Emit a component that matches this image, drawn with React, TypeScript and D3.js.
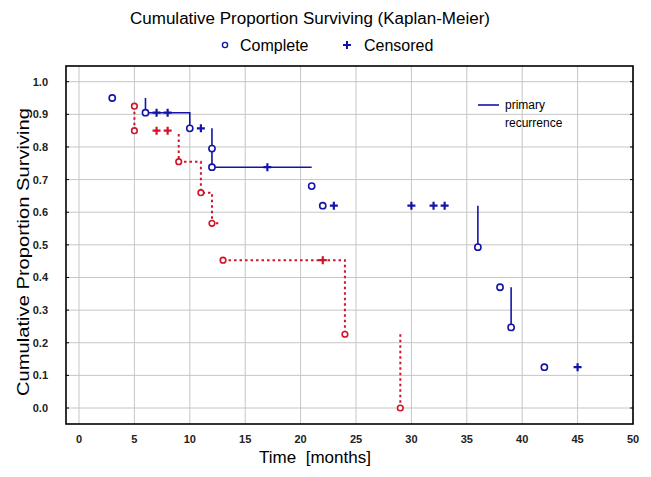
import React, {useRef, useEffect} from 'react';
import * as d3 from "d3";

// primary (blue, solid)
const primaryCompleteT = [3, 6, 10, 12, 12, 21, 22, 36, 38, 39, 42];
const primaryCompleteS = [0.95, 0.905, 0.857, 0.795, 0.738, 0.68, 0.62, 0.493, 0.37, 0.247, 0.125];
const primaryCensoredT = [7, 8, 11, 17, 23, 30, 32, 33, 45];
const primaryCensoredS = [0.905, 0.905, 0.857, 0.738, 0.62, 0.62, 0.62, 0.62, 0.125];
const primarySteps = [
  [[6, 0.95], [6, 0.905], [10, 0.905], [10, 0.857]],
  [[12, 0.857], [12, 0.738], [21, 0.738]],
  [[36, 0.62], [36, 0.493]],
  [[39, 0.37], [39, 0.247]],
];

// recurrence (red, dotted)
const recCompleteT = [5, 5, 9, 11, 12, 13, 24, 29];
const recCompleteS = [0.925, 0.85, 0.755, 0.66, 0.566, 0.453, 0.226, 0.0];
const recCensoredT = [7, 8, 22];
const recCensoredS = [0.85, 0.85, 0.453];
const recSteps = [
  [[5, 0.925], [5, 0.85]],
  [[9, 0.84], [9, 0.755], [11, 0.755], [11, 0.66], [12, 0.66], [12, 0.566], [12.6, 0.566]],
  [[13, 0.453], [24, 0.453], [24, 0.226]],
  [[29, 0.226], [29, 0.0]],
];

const xTicks = [0, 5, 10, 15, 20, 25, 30, 35, 40, 45, 50];
const yTicks = [0, 0.1, 0.2, 0.3, 0.4, 0.5, 0.6, 0.7, 0.8, 0.9, 1.0];

const BLUE = "#1414a8";
const RED = "#d0142a";
const FONT = "'Liberation Sans', Arial, sans-serif";
const NARROW = "'Liberation Sans Narrow', 'Liberation Sans', Arial, sans-serif";

function App() {
  const canvas = useRef(null);

  useEffect(() => {
    const width = 651, height = 477;
    const frame = {left: 66, top: 66, right: 633, bottom: 424};
    d3.select(canvas.current).select('svg').remove();

    const svg = d3.select(canvas.current)
      .append("svg")
      .attr("width", width)
      .attr("height", height)
      .style("position", "absolute")
      .style("left", 0)
      .style("top", 0)
      .style("background", "#fff");

    const x = d3.scaleLinear().domain([0, 50]).range([79, 633]);
    const y = d3.scaleLinear().domain([0, 1]).range([408, 81.7]);

    // grid
    svg.append("g").selectAll("line").data(xTicks).enter().append("line")
      .attr("x1", d => x(d)).attr("x2", d => x(d))
      .attr("y1", frame.top).attr("y2", frame.bottom)
      .attr("stroke", "#c6c6c6").attr("stroke-width", 1);
    svg.append("g").selectAll("line").data(yTicks).enter().append("line")
      .attr("x1", frame.left).attr("x2", frame.right)
      .attr("y1", d => y(d)).attr("y2", d => y(d))
      .attr("stroke", "#c6c6c6").attr("stroke-width", 1);

    // small inner ticks left/right
    svg.append("g").selectAll("line").data(yTicks).enter().append("line")
      .attr("x1", frame.left).attr("x2", frame.left + 3)
      .attr("y1", d => y(d)).attr("y2", d => y(d))
      .attr("stroke", "#000");
    svg.append("g").selectAll("line").data(yTicks).enter().append("line")
      .attr("x1", frame.right - 3).attr("x2", frame.right)
      .attr("y1", d => y(d)).attr("y2", d => y(d))
      .attr("stroke", "#000");

    // frame
    svg.append("rect")
      .attr("x", frame.left).attr("y", frame.top)
      .attr("width", frame.right - frame.left).attr("height", frame.bottom - frame.top)
      .attr("fill", "none").attr("stroke", "#000").attr("stroke-width", 1.6);

    // tick labels
    svg.append("g").selectAll("text").data(xTicks).enter().append("text")
      .attr("x", d => x(d)).attr("y", 443)
      .attr("text-anchor", "middle")
      .style("font-family", NARROW).style("font-size", "11px").style("font-weight", "bold")
      .attr("fill", "#222")
      .text(d => d);
    svg.append("g").selectAll("text").data(yTicks).enter().append("text")
      .attr("x", 48).attr("y", d => y(d) + 4)
      .attr("text-anchor", "end")
      .style("font-family", NARROW).style("font-size", "11px").style("font-weight", "bold")
      .attr("fill", "#222")
      .text(d => d3.format(".1f")(d));

    // axis titles
    svg.append("text")
      .attr("x", 315).attr("y", 463)
      .attr("text-anchor", "middle")
      .style("font-family", FONT).style("font-size", "17px")
      .attr("xml:space", "preserve")
      .text("Time  [months]");
    svg.append("text")
      .attr("transform", "translate(29, 252) rotate(-90)")
      .attr("text-anchor", "middle")
      .attr("textLength", 288)
      .attr("lengthAdjust", "spacingAndGlyphs")
      .style("font-family", FONT).style("font-size", "17px")
      .text("Cumulative Proportion Surviving");

    // title + legend
    svg.append("text")
      .attr("x", 310).attr("y", 24)
      .attr("text-anchor", "middle")
      .attr("textLength", 360)
      .attr("lengthAdjust", "spacingAndGlyphs")
      .style("font-family", FONT).style("font-size", "16px")
      .text("Cumulative Proportion Surviving (Kaplan-Meier)");
    svg.append("circle").attr("cx", 225).attr("cy", 45).attr("r", 2.6)
      .attr("fill", "#fff").attr("stroke", BLUE).attr("stroke-width", 1.4);
    svg.append("text").attr("x", 240).attr("y", 51)
      .style("font-family", FONT).style("font-size", "16px").text("Complete");
    svg.append("path").attr("d", "M343,45h8M347,41v8")
      .attr("stroke", BLUE).attr("stroke-width", 2);
    svg.append("text").attr("x", 364).attr("y", 51)
      .style("font-family", FONT).style("font-size", "16px").text("Censored");

    const line = d3.line().x(d => x(d[0])).y(d => y(d[1]));

    // step lines
    svg.append("g").selectAll("path").data(primarySteps).enter().append("path")
      .attr("d", line).attr("fill", "none")
      .attr("stroke", BLUE).attr("stroke-width", 1.6);
    svg.append("g").selectAll("path").data(recSteps).enter().append("path")
      .attr("d", line).attr("fill", "none")
      .attr("stroke", RED).attr("stroke-width", 2).attr("stroke-dasharray", "2.5,3");

    const cross = (g, ts, ss, color) => {
      g.selectAll("path").data(ts).enter().append("path")
        .attr("d", (d, i) => {
          const cx = x(d), cy = y(ss[i]);
          return `M${cx - 4},${cy}h8M${cx},${cy - 4}v8`;
        })
        .attr("stroke", color).attr("stroke-width", 2.2);
    };
    const circles = (g, ts, ss, color, r) => {
      g.selectAll("circle").data(ts).enter().append("circle")
        .attr("cx", d => x(d)).attr("cy", (d, i) => y(ss[i]))
        .attr("r", r).attr("fill", "#fff")
        .attr("stroke", color).attr("stroke-width", 1.6);
    };

    cross(svg.append("g"), primaryCensoredT, primaryCensoredS, BLUE);
    cross(svg.append("g"), recCensoredT, recCensoredS, RED);
    circles(svg.append("g"), primaryCompleteT, primaryCompleteS, BLUE, 3.1);
    circles(svg.append("g"), recCompleteT, recCompleteS, RED, 2.8);

    // inner legend
    svg.append("line").attr("x1", 478).attr("x2", 499).attr("y1", 105).attr("y2", 105)
      .attr("stroke", BLUE).attr("stroke-width", 1.6);
    svg.append("text").attr("x", 505).attr("y", 109)
      .style("font-family", FONT).style("font-size", "12px").text("primary");
    svg.append("text").attr("x", 505).attr("y", 127)
      .style("font-family", FONT).style("font-size", "12px").text("recurrence");
  }, []);

  return (
    <div ref={canvas}>
    </div>
  );
}

export default App;
